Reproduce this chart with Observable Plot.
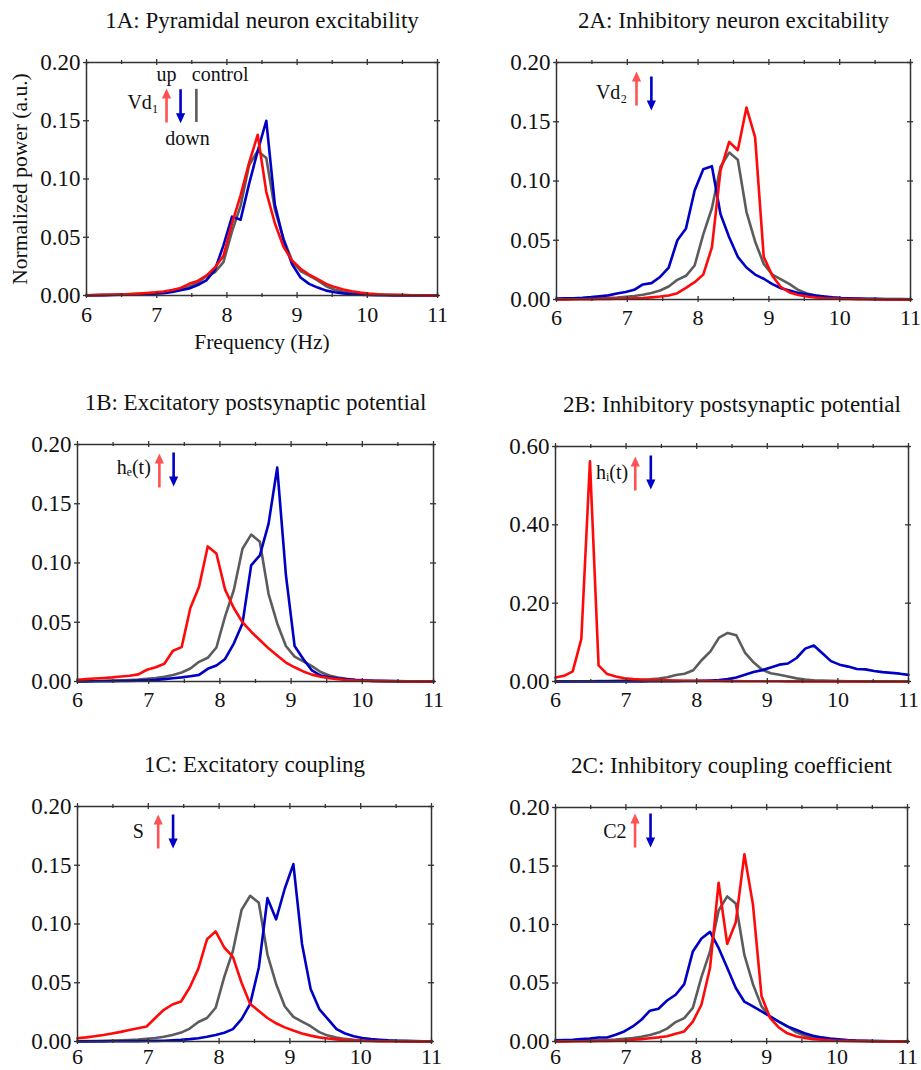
<!DOCTYPE html>
<html>
<head>
<meta charset="utf-8">
<script src="https://cdn.jsdelivr.net/npm/d3@7"></script>
<script src="https://cdn.jsdelivr.net/npm/@observablehq/plot@0.6"></script>
<style>
  body { margin: 0; background: #fff; }
  #fig { position: relative; width: 921px; height: 1070px; background: #fff; }
  .panel { position: absolute; }
</style>
</head>
<body>
<div id="fig"></div>
<script>
// ---------------- data ----------------
const freq = [6.000,6.122,6.244,6.366,6.488,6.610,6.732,6.854,6.976,7.098,7.220,7.341,7.463,7.585,7.707,7.829,7.951,8.073,8.195,8.317,8.439,8.561,8.683,8.805,8.927,9.049,9.171,9.293,9.415,9.537,9.659,9.780,9.902,10.024,10.146,10.268,10.390,10.512,10.634,10.756,10.878,11.000];

const control = [0.0002,0.0003,0.0004,0.0006,0.0008,0.0010,0.0013,0.0017,0.0023,0.0030,0.0040,0.0055,0.0076,0.0110,0.0166,0.0200,0.0287,0.0550,0.0770,0.1120,0.1240,0.1180,0.0740,0.0490,0.0300,0.0210,0.0170,0.0130,0.0080,0.0050,0.0033,0.0022,0.0015,0.0010,0.0007,0.0005,0.0004,0.0003,0.0002,0.0002,0.0001,0.0001];

const vd1Up = [0.0002,0.0003,0.0005,0.0007,0.0009,0.0012,0.0016,0.0021,0.0027,0.0035,0.0048,0.0065,0.0100,0.0125,0.0170,0.0240,0.0340,0.0620,0.0860,0.1140,0.1380,0.0890,0.0620,0.0420,0.0300,0.0230,0.0180,0.0140,0.0100,0.0072,0.0052,0.0036,0.0025,0.0016,0.0010,0.0007,0.0005,0.0003,0.0002,0.0002,0.0001,0.0001];
const vd1Down = [0.0001,0.0002,0.0003,0.0004,0.0006,0.0008,0.0010,0.0013,0.0016,0.0020,0.0030,0.0045,0.0060,0.0090,0.0130,0.0220,0.0430,0.0677,0.0650,0.0960,0.1240,0.1500,0.0780,0.0480,0.0270,0.0155,0.0100,0.0068,0.0042,0.0028,0.0018,0.0011,0.0007,0.0005,0.0003,0.0002,0.0001,0.0001,0.0001,0.0001,0.0001,0.0001];

const vd2Up = [0.0001,0.0001,0.0002,0.0002,0.0003,0.0004,0.0005,0.0006,0.0008,0.0010,0.0012,0.0018,0.0025,0.0034,0.0053,0.0098,0.0146,0.0210,0.0440,0.1090,0.1330,0.1260,0.1620,0.1370,0.0360,0.0200,0.0104,0.0060,0.0038,0.0026,0.0017,0.0011,0.0008,0.0005,0.0004,0.0003,0.0002,0.0002,0.0001,0.0001,0.0001,0.0001];
const vd2Down = [0.0008,0.0010,0.0011,0.0014,0.0020,0.0028,0.0035,0.0050,0.0064,0.0082,0.0127,0.0138,0.0190,0.0270,0.0500,0.0600,0.0920,0.1100,0.1125,0.0720,0.0526,0.0360,0.0270,0.0210,0.0175,0.0130,0.0095,0.0075,0.0055,0.0043,0.0033,0.0025,0.0018,0.0013,0.0010,0.0008,0.0006,0.0005,0.0004,0.0003,0.0003,0.0002];

const heUp = [0.0015,0.0020,0.0025,0.0030,0.0035,0.0042,0.0048,0.0060,0.0099,0.0120,0.0150,0.0260,0.0290,0.0620,0.0800,0.1140,0.1080,0.0775,0.0620,0.0500,0.0420,0.0350,0.0280,0.0220,0.0160,0.0120,0.0085,0.0058,0.0040,0.0028,0.0019,0.0013,0.0009,0.0006,0.0004,0.0003,0.0002,0.0002,0.0001,0.0001,0.0001,0.0001];
const heDown = [0.0001,0.0001,0.0002,0.0002,0.0003,0.0004,0.0005,0.0007,0.0010,0.0014,0.0020,0.0027,0.0035,0.0045,0.0056,0.0107,0.0135,0.0190,0.0320,0.0490,0.0980,0.1065,0.1330,0.1805,0.0900,0.0300,0.0190,0.0093,0.0050,0.0035,0.0025,0.0018,0.0012,0.0008,0.0005,0.0004,0.0003,0.0002,0.0001,0.0001,0.0001,0.0001];

const hiUp = [0.0100,0.0145,0.0260,0.1090,0.5620,0.0410,0.0190,0.0130,0.0085,0.0060,0.0050,0.0040,0.0035,0.0030,0.0025,0.0020,0.0018,0.0015,0.0013,0.0011,0.0010,0.0009,0.0008,0.0007,0.0006,0.0005,0.0005,0.0004,0.0004,0.0003,0.0003,0.0003,0.0002,0.0002,0.0002,0.0002,0.0002,0.0001,0.0001,0.0001,0.0001,0.0001];
const hiDown = [0.0001,0.0001,0.0001,0.0001,0.0001,0.0002,0.0002,0.0002,0.0003,0.0003,0.0004,0.0005,0.0006,0.0007,0.0009,0.0011,0.0014,0.0018,0.0025,0.0035,0.0060,0.0100,0.0170,0.0240,0.0290,0.0360,0.0430,0.0460,0.0600,0.0840,0.0920,0.0720,0.0520,0.0430,0.0380,0.0320,0.0310,0.0270,0.0240,0.0220,0.0200,0.0170];

const sUp = [0.0028,0.0035,0.0045,0.0055,0.0068,0.0082,0.0098,0.0113,0.0128,0.0200,0.0270,0.0315,0.0340,0.0460,0.0620,0.0870,0.0937,0.0800,0.0720,0.0500,0.0320,0.0260,0.0200,0.0155,0.0120,0.0093,0.0068,0.0050,0.0035,0.0025,0.0018,0.0012,0.0009,0.0006,0.0004,0.0003,0.0002,0.0002,0.0001,0.0001,0.0001,0.0001];
const sDown = [0.0001,0.0001,0.0001,0.0001,0.0002,0.0002,0.0003,0.0003,0.0004,0.0005,0.0007,0.0010,0.0014,0.0020,0.0028,0.0040,0.0055,0.0075,0.0105,0.0190,0.0320,0.0630,0.1220,0.1040,0.1300,0.1510,0.0830,0.0446,0.0276,0.0190,0.0105,0.0068,0.0045,0.0030,0.0020,0.0015,0.0010,0.0007,0.0005,0.0003,0.0002,0.0002];

const c2Up = [0.0001,0.0001,0.0002,0.0002,0.0003,0.0004,0.0005,0.0007,0.0009,0.0015,0.0020,0.0028,0.0035,0.0045,0.0066,0.0086,0.0170,0.0314,0.0630,0.1357,0.0834,0.1020,0.1600,0.1170,0.0386,0.0200,0.0120,0.0070,0.0045,0.0030,0.0020,0.0015,0.0010,0.0007,0.0005,0.0004,0.0003,0.0002,0.0002,0.0001,0.0001,0.0001];
const c2Down = [0.0010,0.0012,0.0015,0.0020,0.0025,0.0034,0.0034,0.0057,0.0086,0.0129,0.0186,0.0263,0.0280,0.0350,0.0400,0.0490,0.0770,0.0880,0.0937,0.0800,0.0630,0.0457,0.0340,0.0300,0.0257,0.0214,0.0170,0.0129,0.0100,0.0071,0.0050,0.0035,0.0025,0.0018,0.0012,0.0008,0.0006,0.0004,0.0003,0.0002,0.0002,0.0001];

const titles = [
  "1A: Pyramidal neuron excitability",
  "2A: Inhibitory neuron excitability",
  "1B: Excitatory postsynaptic potential",
  "2B: Inhibitory postsynaptic potential",
  "1C: Excitatory coupling",
  "2C: Inhibitory coupling coefficient"
];
const paramLabels = ["Vd\u2081", "Vd\u2082", "h\u2091(t)", "h\u1D62(t)", "S", "C2"];
const legendWords = ["up", "down", "control"];
const xAxisTitle = "Frequency (Hz)";
const yAxisTitle = "Normalized power (a.u.)";
const xTickLabels = [6, 7, 8, 9, 10, 11];
const xMinorTicks = [6.5, 7.5, 8.5, 9.5, 10.5];
const yTickLabels = [0, 0.05, 0.10, 0.15, 0.20];
const yTickLabelsWide = [0, 0.20, 0.40, 0.60];

// ---------------- layout ----------------
const FONT = '"Liberation Serif", "Times New Roman", Times, serif';
const RED = "#ff0a0a", BLUE = "#0000c4", GRAY = "#5c5c5c";
const RED_ARROW = "#ff5252", BLUE_ARROW = "#0000c8", INK = "#333333";

const panels = [
  {title: titles[0], up: vd1Up, down: vd1Down, yTicks: yTickLabels,
   cell: {left: 0, top: 0, width: 460, height: 355, mL: 86, mR: 23, mT: 62, mB: 60, pad: 11},
   note: {label: paramLabels[0], labelX: 7.03, labelY: 0.1605, anchor: "end", redX: 7.14, blueX: 7.34, redTail: 0.1485, blueTail: 0.177},
   first: true},
  {title: titles[1], up: vd2Up, down: vd2Down, yTicks: yTickLabels,
   cell: {left: 460, top: 0, width: 461, height: 355, mL: 96, mR: 11, mT: 62, mB: 56, pad: 10},
   note: {label: paramLabels[1], labelX: 7.00, labelY: 0.1696, anchor: "end", redX: 7.13, blueX: 7.34, redTail: 0.1637, blueTail: 0.1882}},
  {title: titles[2], up: heUp, down: heDown, yTicks: yTickLabels,
   cell: {left: 0, top: 355, width: 460, height: 360, mL: 77, mR: 27, mT: 89, mB: 34, pad: 10},
   note: {label: paramLabels[2], labelX: 7.03, labelY: 0.1755, anchor: "end", redX: 7.15, blueX: 7.35, redTail: 0.1637, blueTail: 0.1932}},
  {title: titles[3], up: hiUp, down: hiDown, yTicks: yTickLabelsWide,
   cell: {left: 460, top: 355, width: 461, height: 360, mL: 95, mR: 13, mT: 91, mB: 34, pad: 10},
   note: {label: paramLabels[3], labelX: 7.03, labelY: 0.518, anchor: "end", redX: 7.13, blueX: 7.35, redTail: 0.4876, blueTail: 0.577}},
  {title: titles[4], up: sUp, down: sDown, yTicks: yTickLabels,
   cell: {left: 0, top: 715, width: 460, height: 355, mL: 77, mR: 29, mT: 91, mB: 29, pad: 7},
   note: {label: paramLabels[4], labelX: 6.86, labelY: 0.1736, anchor: "middle", redX: 7.14, blueX: 7.35, redTail: 0.1643, blueTail: 0.1932}},
  {title: titles[5], up: c2Up, down: c2Down, yTicks: yTickLabels,
   cell: {left: 460, top: 715, width: 461, height: 355, mL: 95, mR: 14, mT: 92, mB: 29, pad: 7},
   note: {label: paramLabels[5], labelX: 7.01, labelY: 0.1736, anchor: "end", redX: 7.13, blueX: 7.35, redTail: 0.1658, blueTail: 0.1949}}
];

// filled arrow drawn as a vector shape (points up at rotate 0)
const arrowShape = {
  draw(ctx, l) {
    const h = 10, w = 4.6, s = 1.3;
    ctx.moveTo(-s, 0);
    ctx.lineTo(-s, -(l - h));
    ctx.lineTo(-w, -(l - h));
    ctx.lineTo(0, -l);
    ctx.lineTo(w, -(l - h));
    ctx.lineTo(s, -(l - h));
    ctx.lineTo(s, 0);
    ctx.closePath();
  }
};

const fig = document.getElementById("fig");
const rows = (vals) => freq.map((f, i) => ({f, v: vals[i]}));
const fmt = d3.format(".2f");

for (const p of panels) {
  const ymax = p.yTicks[p.yTicks.length - 1];
  const c = p.cell;
  const tick = {stroke: INK, strokeWidth: 1.3};
  const marks = [
    Plot.line(rows(control), {x: "f", y: "v", stroke: GRAY, strokeWidth: 2.6}),
    Plot.line(rows(p.down), {x: "f", y: "v", stroke: BLUE, strokeWidth: 2.6}),
    Plot.line(rows(p.up), {x: "f", y: "v", stroke: RED, strokeWidth: 2.6}),
    Plot.frame({stroke: INK, strokeWidth: 1.5}),
    Plot.ruleX(xTickLabels, {x: d => d, y1: 0, y2: 0, insetTop: -3, insetBottom: -3, ...tick}),
    Plot.ruleX(xTickLabels, {x: d => d, y1: ymax, y2: ymax, insetTop: -3, insetBottom: -3, ...tick}),
    Plot.ruleX(xMinorTicks, {x: d => d, y1: 0, y2: 0, insetTop: -2, insetBottom: -2, ...tick}),
    Plot.ruleX(xMinorTicks, {x: d => d, y1: ymax, y2: ymax, insetTop: -2, insetBottom: -2, ...tick}),
    Plot.ruleY(p.yTicks, {y: d => d, x1: 6, x2: 6, insetLeft: -3, insetRight: -3, ...tick}),
    Plot.ruleY(p.yTicks, {y: d => d, x1: 11, x2: 11, insetLeft: -3, insetRight: -3, ...tick}),
    Plot.axisX({anchor: "bottom", ticks: xTickLabels, tickSize: 0, tickPadding: c.pad, fontSize: 22, label: null, tickFormat: d => String(d)}),
    Plot.axisY({anchor: "left", ticks: p.yTicks, tickSize: 0, tickPadding: 6, fontSize: 23, label: null, tickFormat: fmt}),
    Plot.text([p.title], {frameAnchor: "top", dy: -35, lineAnchor: "bottom", fontSize: 23, text: d => d}),
    Plot.vector([p.note], {x: "redX", y: "redTail", length: 34, anchor: "start", shape: arrowShape, fill: RED_ARROW, stroke: "none"}),
    Plot.vector([p.note], {x: "blueX", y: "blueTail", length: 34, anchor: "start", rotate: 180, shape: arrowShape, fill: BLUE_ARROW, stroke: "none"}),
    Plot.text([p.note], {x: "labelX", y: "labelY", text: "label", textAnchor: p.note.anchor, lineAnchor: "bottom", fontSize: 20})
  ];
  if (p.first) {
    marks.push(
      Plot.ruleX([7.565], {y1: 0.1485, y2: 0.177, stroke: GRAY, strokeWidth: 2.6}),
      Plot.text([legendWords[0]], {x: 7.14, y: 0.1845, text: d => d, textAnchor: "middle", lineAnchor: "bottom", fontSize: 20}),
      Plot.text([legendWords[2]], {x: 7.50, y: 0.1845, text: d => d, textAnchor: "start", lineAnchor: "bottom", fontSize: 20}),
      Plot.text([legendWords[1]], {x: 7.44, y: 0.1296, text: d => d, textAnchor: "middle", lineAnchor: "bottom", fontSize: 20}),
      Plot.text([xAxisTitle], {frameAnchor: "bottom", dy: 53, lineAnchor: "bottom", fontSize: 21.5, text: d => d}),
      Plot.text([yAxisTitle], {frameAnchor: "left", dx: -66, rotate: -90, textAnchor: "middle", lineAnchor: "middle", fontSize: 21.5, text: d => d})
    );
  }
  const chart = Plot.plot({
    width: c.width, height: c.height,
    marginLeft: c.mL, marginRight: c.mR, marginTop: c.mT, marginBottom: c.mB,
    x: {domain: [6, 11]},
    y: {domain: [0, ymax]},
    style: {fontFamily: FONT, fontSize: "20px", color: "#111", background: "transparent", overflow: "visible", maxWidth: "none"},
    marks
  });
  const div = document.createElement("div");
  div.className = "panel";
  div.style.left = c.left + "px";
  div.style.top = c.top + "px";
  div.appendChild(chart);
  fig.appendChild(div);
}
</script>
</body>
</html>
